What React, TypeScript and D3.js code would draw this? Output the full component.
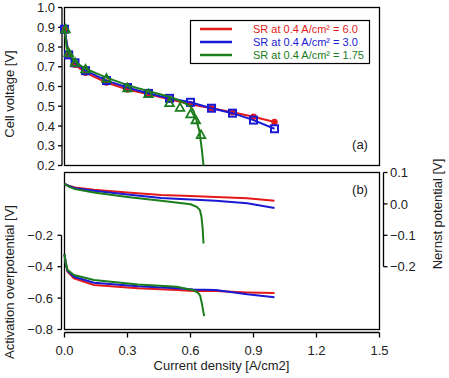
import React from "react";
import * as d3 from "d3";

// ---- Data ----
// Panel (a): cell voltage vs current density
const cdTop = [0, 0.02, 0.05, 0.1, 0.2, 0.3, 0.4, 0.5, 0.6, 0.7, 0.8, 0.9, 1.0];
const vRed = [0.89, 0.76, 0.71, 0.67, 0.62, 0.585, 0.56, 0.535, 0.51, 0.49, 0.47, 0.447, 0.42];
const vBlue = [0.89, 0.76, 0.72, 0.68, 0.63, 0.595, 0.565, 0.54, 0.52, 0.49, 0.465, 0.43, 0.386];
const cdGreenPts = [0.005, 0.02, 0.05, 0.1, 0.2, 0.3, 0.4, 0.5, 0.55, 0.6, 0.625, 0.65];
const vGreenPts = [0.89, 0.77, 0.72, 0.687, 0.64, 0.592, 0.562, 0.517, 0.493, 0.46, 0.43, 0.355];
const cdGreenLine = [0, 0.005, 0.01, 0.02, 0.05, 0.1, 0.2, 0.3, 0.4, 0.5, 0.55, 0.6, 0.615, 0.628, 0.643, 0.654, 0.662];
const vGreenLine = [0.9, 0.85, 0.8, 0.77, 0.725, 0.69, 0.645, 0.607, 0.576, 0.548, 0.528, 0.5, 0.475, 0.43, 0.372, 0.28, 0.2];

// Panel (b): Nernst potential (right axis)
const cdN = [0, 0.02, 0.05, 0.14, 0.3, 0.46, 0.6, 0.72, 0.87, 1.0];
const nRed = [0.064, 0.058, 0.052, 0.045, 0.036, 0.028, 0.025, 0.022, 0.018, 0.01];
const nBlue = [0.064, 0.057, 0.05, 0.042, 0.03, 0.019, 0.014, 0.01, 0.002, -0.013];
const cdNG = [0, 0.02, 0.05, 0.14, 0.3, 0.46, 0.6, 0.63, 0.645, 0.652, 0.658, 0.662];
const nGreen = [0.064, 0.055, 0.047, 0.036, 0.022, 0.01, -0.001, -0.009, -0.02, -0.04, -0.08, -0.126];

// Panel (b): activation overpotential (left axis)
const cdA = [0, 0.005, 0.014, 0.045, 0.14, 0.35, 0.535, 0.614, 0.72, 0.87, 1.0];
const aRed = [-0.32, -0.37, -0.43, -0.474, -0.517, -0.538, -0.549, -0.555, -0.555, -0.564, -0.568];
const aBlue = [-0.32, -0.37, -0.425, -0.464, -0.502, -0.525, -0.538, -0.545, -0.548, -0.575, -0.594];
const cdAG = [0, 0.005, 0.014, 0.045, 0.14, 0.35, 0.535, 0.614, 0.635, 0.646, 0.655, 0.665];
const aGreen = [-0.32, -0.37, -0.42, -0.453, -0.485, -0.513, -0.528, -0.55, -0.565, -0.585, -0.64, -0.715];

const legendLabels = ["SR at 0.4 A/cm\u00B2 = 6.0", "SR at 0.4 A/cm\u00B2 = 3.0", "SR at 0.4 A/cm\u00B2 = 1.75"];
const xTicks = [0, 0.3, 0.6, 0.9, 1.2, 1.5];
const yTopTicks = [0.2, 0.3, 0.4, 0.5, 0.6, 0.7, 0.8, 0.9, 1.0];
const yLTicks = [-0.8, -0.6, -0.4, -0.2];
const yRTicks = [-0.2, -0.1, 0.0, 0.1];

const RED = "#e41a1a";
const BLUE = "#1a1ad2";
const GREEN = "#1b7d1b";
const FONT = "'Liberation Sans', Arial, sans-serif";
const TXT = "#222";

export default function App() {
  const x = d3.scaleLinear().domain([0, 1.5]).range([64.5, 379.5]);
  const yTop = d3.scaleLinear().domain([0.2, 1.0]).range([165.5, 7.5]);
  const yL = d3.scaleLinear().domain([-0.8, 0.2]).range([329.5, 172.5]);
  const yR = d3.scaleLinear().domain([-0.4, 0.1]).range([329.5, 172.5]);

  const mk = (xs: number[], ys: number[], ys2: (v: number) => number) =>
    d3.line<number>().x((_, i) => x(xs[i])).y((_, i) => ys2(ys[i]))(ys) || "";

  const fmt = d3.format(".1f");
  const trianglePath = (cx: number, cy: number, s: number) =>
    `M${cx},${cy - s}L${cx + s * 0.95},${cy + s * 0.7}L${cx - s * 0.95},${cy + s * 0.7}Z`;

  return (
    <svg width={449} height={378} style={{ position: "absolute", left: 0, top: 0, background: "#fff" }} fontFamily={FONT}>
      <rect x={0} y={0} width={449} height={378} fill="#fff" />
      {/* Panel boxes */}
      <rect x={64.5} y={7.5} width={315} height={158} fill="none" stroke="#000" strokeWidth={1.3} />
      <rect x={64.5} y={172.5} width={315} height={157} fill="none" stroke="#000" strokeWidth={1.3} />

      {/* Top left axis */}
      <line x1={62} x2={62} y1={yTop(1.0)} y2={yTop(0.2)} stroke="#000" strokeWidth={1.3} />
      {yTopTicks.map((t) => (
        <g key={"yt" + t}>
          <line x1={58} x2={62} y1={yTop(t)} y2={yTop(t)} stroke="#000" strokeWidth={1.3} />
          <text x={55} y={yTop(t)} dy="0.36em" textAnchor="end" fontSize={13} fill={TXT}>{fmt(t)}</text>
        </g>
      ))}

      {/* Bottom left axis */}
      <line x1={61.5} x2={61.5} y1={yL(-0.2)} y2={yL(-0.8)} stroke="#000" strokeWidth={1.3} />
      {yLTicks.map((t) => (
        <g key={"yl" + t}>
          <line x1={57.5} x2={61.5} y1={yL(t)} y2={yL(t)} stroke="#000" strokeWidth={1.3} />
          <text x={53} y={yL(t)} dy="0.36em" textAnchor="end" fontSize={13} fill={TXT}>{fmt(t)}</text>
        </g>
      ))}

      {/* Right axis */}
      <line x1={383.5} x2={383.5} y1={yR(0.1)} y2={yR(-0.2)} stroke="#000" strokeWidth={1.3} />
      {yRTicks.map((t) => (
        <g key={"yr" + t}>
          <line x1={383.5} x2={387.5} y1={yR(t)} y2={yR(t)} stroke="#000" strokeWidth={1.3} />
          <text x={390} y={yR(t)} dy="0.36em" textAnchor="start" fontSize={13} fill={TXT}>{fmt(t)}</text>
        </g>
      ))}

      {/* X axis */}
      <line x1={x(0)} x2={x(1.5)} y1={332.5} y2={332.5} stroke="#000" strokeWidth={1.3} />
      {xTicks.map((t) => (
        <g key={"xt" + t}>
          <line x1={x(t)} x2={x(t)} y1={332.5} y2={337.5} stroke="#000" strokeWidth={1.3} />
          <text x={x(t)} y={355} textAnchor="middle" fontSize={13} fill={TXT}>{fmt(t)}</text>
        </g>
      ))}

      {/* Axis titles */}
      <text transform="translate(14,94) rotate(-90)" textAnchor="middle" fontSize={13} fill={TXT}>Cell voltage [V]</text>
      <text transform="translate(14,282) rotate(-90)" textAnchor="middle" fontSize={13} fill={TXT}>Activation overpotential [V]</text>
      <text transform="translate(442,214) rotate(-90)" textAnchor="middle" fontSize={13} fill={TXT}>Nernst potential [V]</text>
      <text x={221.5} y={370} textAnchor="middle" fontSize={13} fill={TXT}>Current density [A/cm2]</text>

      {/* Panel (a) curves */}
      <path d={mk(cdTop, vRed, yTop)} fill="none" stroke={RED} strokeWidth={2} />
      {cdTop.map((c, i) => (
        <circle key={"rc" + i} cx={x(c)} cy={yTop(vRed[i])} r={3.2} fill={RED} />
      ))}
      <path d={mk(cdTop, vBlue, yTop)} fill="none" stroke={BLUE} strokeWidth={2} />
      {cdTop.map((c, i) => (
        <rect key={"bs" + i} x={x(c) - 3.5} y={yTop(vBlue[i]) - 3.5} width={7} height={7} fill="none" stroke={BLUE} strokeWidth={2} />
      ))}
      <path d={mk(cdGreenLine, vGreenLine, yTop)} fill="none" stroke={GREEN} strokeWidth={2} />
      {cdGreenPts.map((c, i) => (
        <path key={"gt" + i} d={trianglePath(x(c), yTop(vGreenPts[i]), 4.5)} fill="none" stroke={GREEN} strokeWidth={1.8} />
      ))}

      {/* Legend */}
      <rect x={190.5} y={20.5} width={179} height={43} fill="#fff" stroke="#000" strokeWidth={1.2} />
      {[RED, BLUE, GREEN].map((col, i) => (
        <g key={"lg" + i}>
          <line x1={200} x2={232} y1={29 + i * 13} y2={29 + i * 13} stroke={col} strokeWidth={2.5} />
          <text x={253} y={29 + i * 13} dy="0.36em" fontSize={11} fill={col}>{legendLabels[i]}</text>
        </g>
      ))}
      <text x={360} y={144} dy="0.36em" textAnchor="middle" fontSize={13} fill={TXT}>(a)</text>

      {/* Panel (b) curves */}
      <path d={mk(cdN, nRed, yR)} fill="none" stroke={RED} strokeWidth={2} />
      <path d={mk(cdN, nBlue, yR)} fill="none" stroke={BLUE} strokeWidth={2} />
      <path d={mk(cdNG, nGreen, yR)} fill="none" stroke={GREEN} strokeWidth={2} />
      <path d={mk(cdA, aRed, yL)} fill="none" stroke={RED} strokeWidth={2} />
      <path d={mk(cdA, aBlue, yL)} fill="none" stroke={BLUE} strokeWidth={2} />
      <path d={mk(cdAG, aGreen, yL)} fill="none" stroke={GREEN} strokeWidth={2} />
      <text x={360} y={189} dy="0.36em" textAnchor="middle" fontSize={13} fill={TXT}>(b)</text>
    </svg>
  );
}
